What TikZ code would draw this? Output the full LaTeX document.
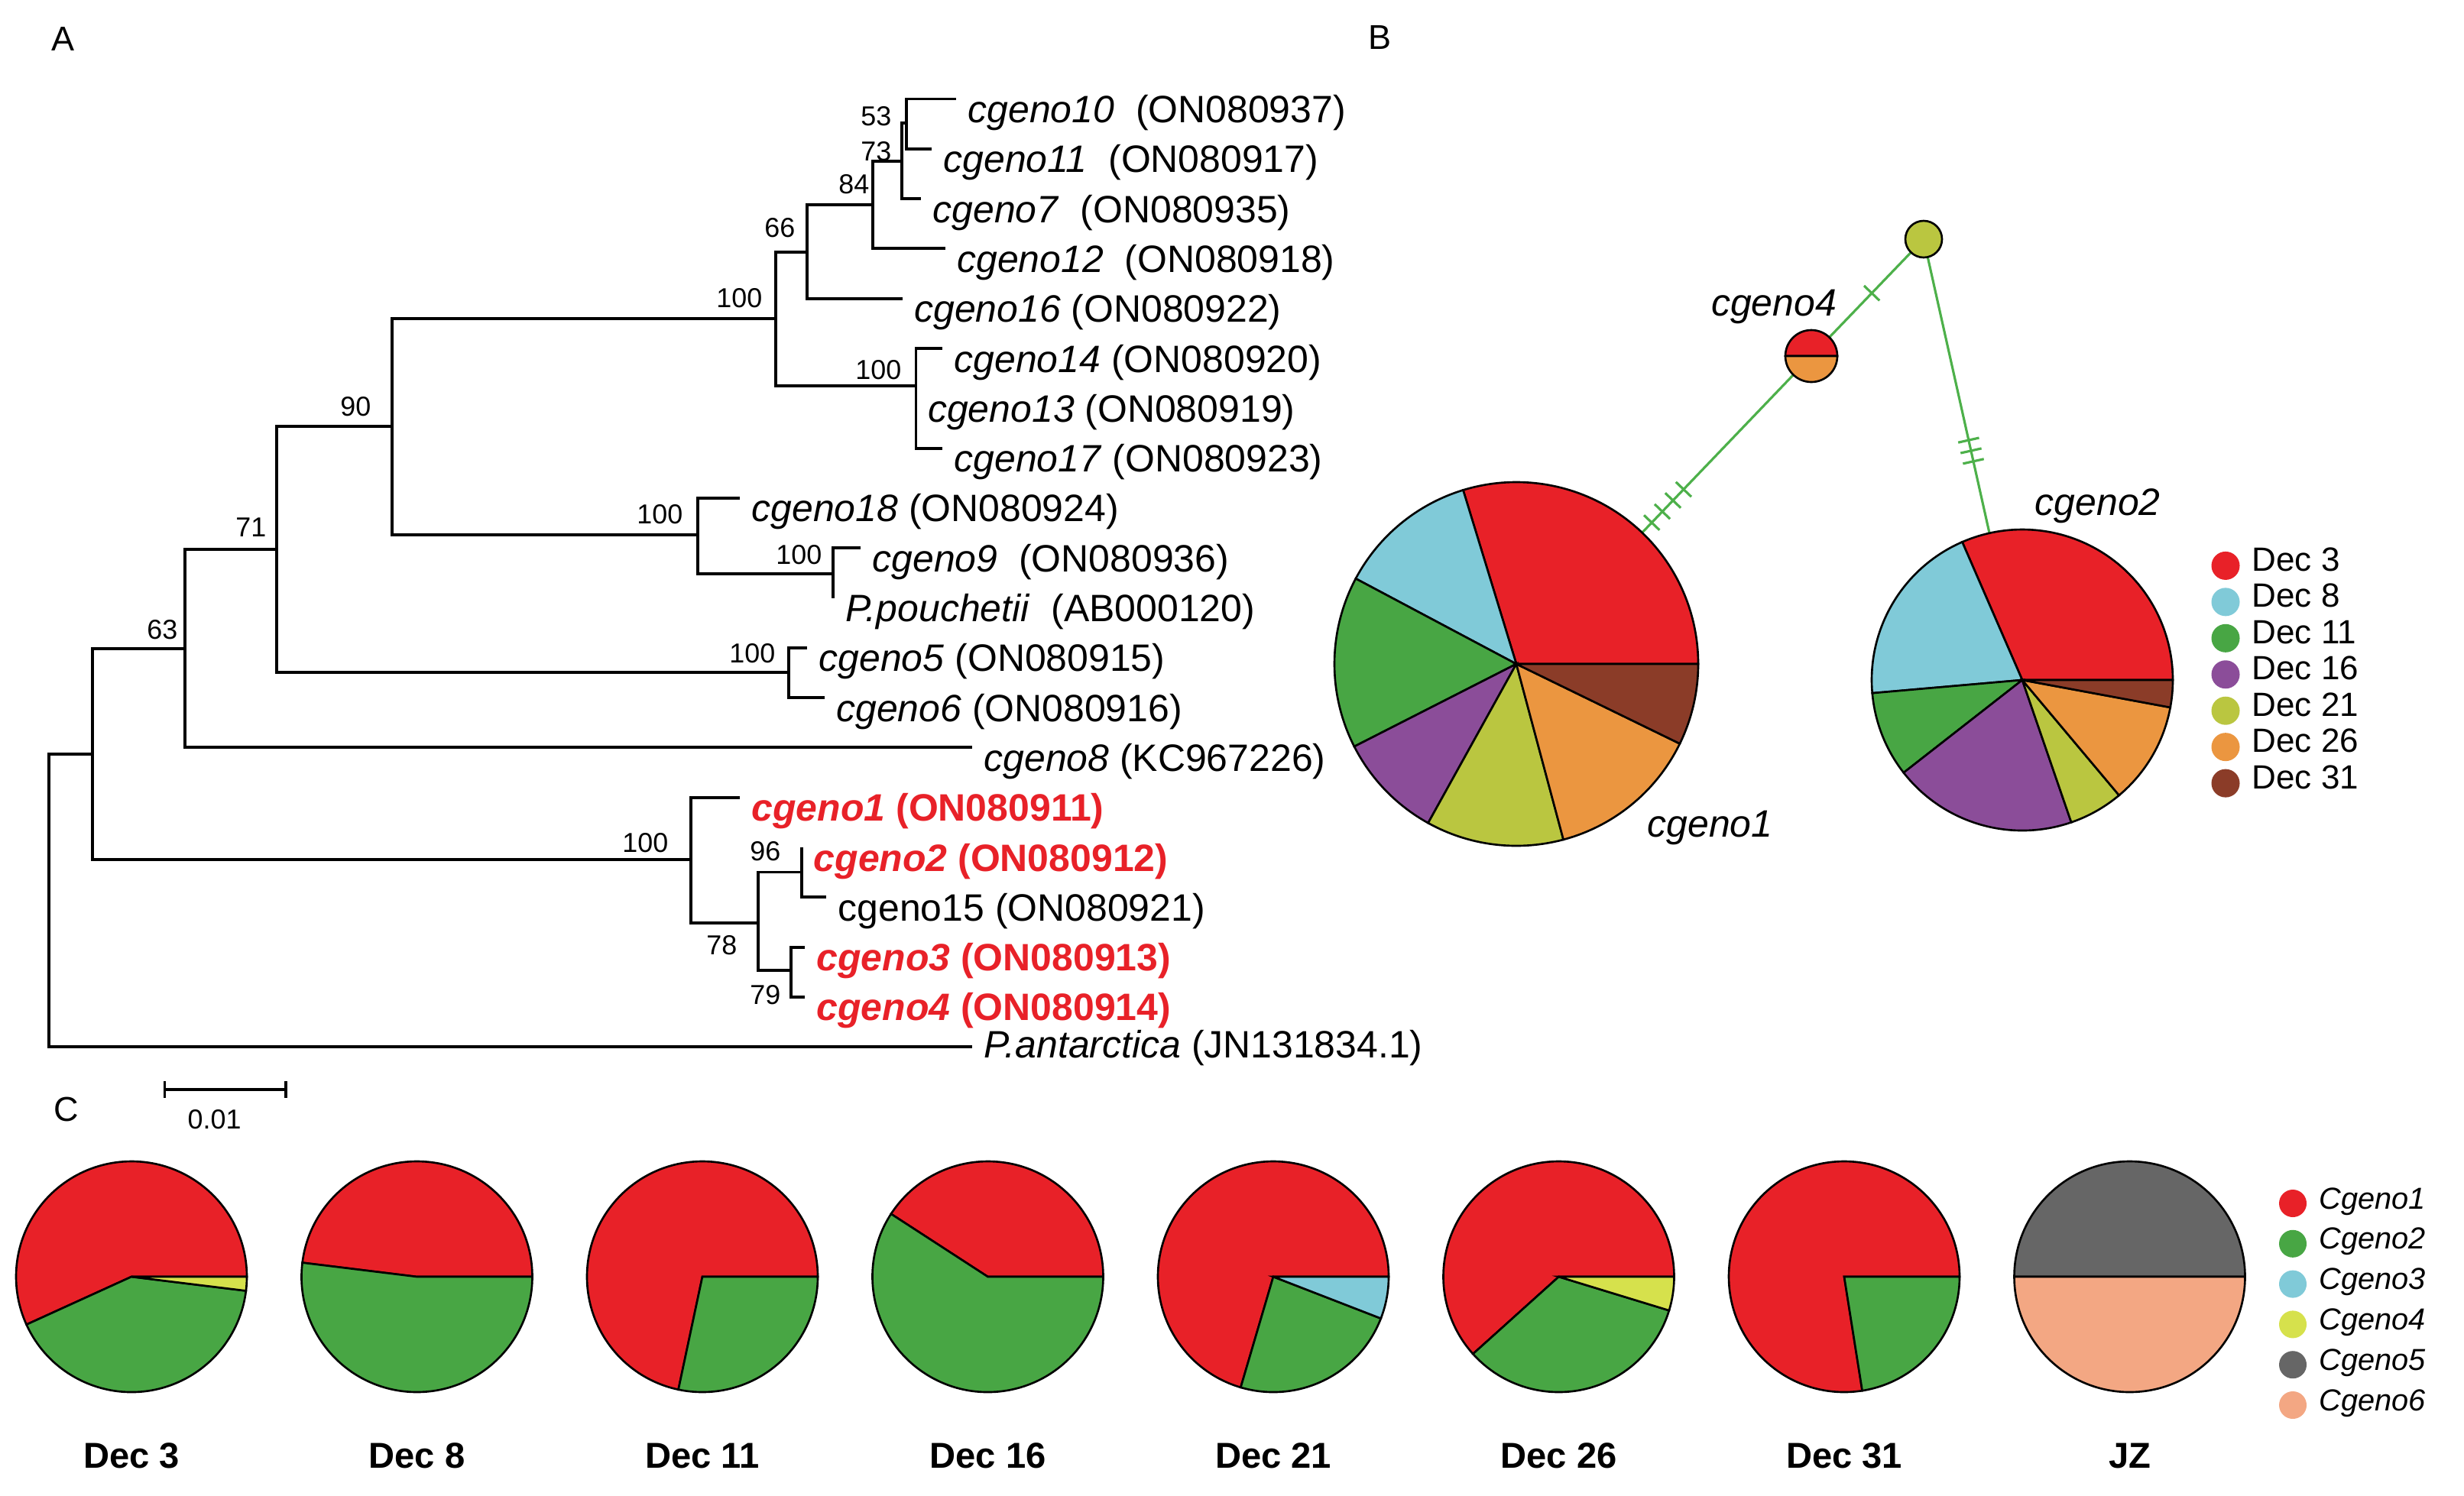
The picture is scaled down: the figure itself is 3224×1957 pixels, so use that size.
\documentclass[tikz,border=0pt]{standalone}
\usepackage{fontspec}
\setmainfont{Liberation Sans}
\usetikzlibrary{calc,arrows.meta}

\definecolor{pieRed}{RGB}{232,33,40}
\definecolor{pieCyan}{RGB}{128,202,216}
\definecolor{pieGreen}{RGB}{72,166,68}
\definecolor{piePurple}{RGB}{139,77,153}
\definecolor{pieOlive}{RGB}{186,198,64}
\definecolor{pieOrange}{RGB}{235,150,64}
\definecolor{pieBrown}{RGB}{139,60,40}
\definecolor{pieYellow}{RGB}{214,225,76}
\definecolor{pieGrey}{RGB}{102,102,102}
\definecolor{pieSalmon}{RGB}{243,167,131}
\definecolor{netGreen}{RGB}{77,176,74}

\begin{document}
\begin{tikzpicture}[
    x=0.01cm, y=0.01cm,
    branch/.style={line width=1.1pt},
    leaf/.style={anchor=base west, xshift=0.15cm, yshift=-0.31cm, inner sep=0pt, font=\fontsize{14.2}{16}\selectfont},
    hit/.style={leaf, text=pieRed, font=\fontsize{14.2}{16}\selectfont\bfseries},
    boot/.style={anchor=base east, inner sep=0pt, font=\fontsize{10.2}{12}\selectfont},
    panel/.style={anchor=base west, inner sep=0pt, font=\fontsize{12.8}{15}\selectfont},
    slice/.style={draw=black, line width=0.75pt},
    link/.style={draw=netGreen, line width=0.9pt},
    hap/.style={circle, inner sep=0pt, outer sep=0pt},
    datelab/.style={anchor=base, inner sep=0pt, font=\fontsize{13.4}{16}\selectfont\bfseries},
    key/.style={circle, inner sep=0pt, minimum size=0.37cm},
    keytext/.style={anchor=base west, inner sep=0pt, font=\fontsize{12.5}{15}\selectfont}
]
    \useasboundingbox (0,0) rectangle (3224,-1957);

    % Panel letters
    \node[panel] (pA) at (67,-66) {A};
    \node[panel] (pB) at (1790,-64) {B};
    \node[panel] (pC) at (70,-1467) {C};

    % Internal nodes of the tree
    \coordinate (root) at (63.8,-1178);
    \coordinate (nA) at (121.2,-987);
    \coordinate (nB) at (242.3,-848.7);
    \coordinate (nD) at (361.6,-719.3);
    \coordinate (nE) at (513.4,-558);
    \coordinate (nG) at (1014.8,-417.4);
    \coordinate (n66) at (1055.6,-330);
    \coordinate (n84) at (1142,-268);
    \coordinate (n73) at (1179.6,-211);
    \coordinate (n53) at (1185.7,-161);
    \coordinate (nT) at (1198.5,-505);
    \coordinate (nH) at (913.3,-700);
    \coordinate (nI) at (1090.3,-751);
    \coordinate (nF) at (1032,-880.4);
    \coordinate (nC) at (904.2,-1124.9);
    \coordinate (nJ) at (991.6,-1208.4);
    \coordinate (nK) at (1049,-1141.5);
    \coordinate (nL) at (1035,-1270.3);

    % Tips
    \coordinate (t10) at (1251,-129.5);
    \coordinate (t11) at (1219,-194.8);
    \coordinate (t7) at (1205,-260.1);
    \coordinate (t12) at (1236.7,-325.4);
    \coordinate (t16) at (1180.6,-390.7);
    \coordinate (t14) at (1233,-456);
    \coordinate (t13) at (1198.5,-521.3);
    \coordinate (t17) at (1233,-586.6);
    \coordinate (t18) at (967.9,-651.9);
    \coordinate (t9) at (1126,-717.2);
    \coordinate (tPp) at (1090.3,-782.5);
    \coordinate (t5) at (1056,-847.8);
    \coordinate (t6) at (1078.6,-913.1);
    \coordinate (t8) at (1271.8,-978.4);
    \coordinate (t1) at (968,-1043.7);
    \coordinate (t2) at (1049,-1109);
    \coordinate (t15) at (1080.9,-1174.3);
    \coordinate (t3) at (1052.8,-1239.6);
    \coordinate (t4) at (1052.8,-1304.9);
    \coordinate (tPa) at (1272.2,-1370.2);

    % Branches
    \draw[branch] (root) |- (nA);
    \draw[branch] (root) |- (tPa);
    \draw[branch] (nA) |- (nB);
    \draw[branch] (nA) |- (nC);
    \draw[branch] (nB) |- (nD);
    \draw[branch] (nB) |- (t8);
    \draw[branch] (nD) |- (nE);
    \draw[branch] (nD) |- (nF);
    \draw[branch] (nE) |- (nG);
    \draw[branch] (nE) |- (nH);
    \draw[branch] (nG) |- (n66);
    \draw[branch] (nG) |- (nT);
    \draw[branch] (n66) |- (n84);
    \draw[branch] (n66) |- (t16);
    \draw[branch] (n84) |- (n73);
    \draw[branch] (n84) |- (t12);
    \draw[branch] (n73) |- (n53);
    \draw[branch] (n73) |- (t7);
    \draw[branch] (n53) |- (t10);
    \draw[branch] (n53) |- (t11);
    \draw[branch] (nT) |- (t14);
    \draw[branch] (nT) |- (t17);
    \draw[branch] (nH) |- (t18);
    \draw[branch] (nH) |- (nI);
    \draw[branch] (nI) |- (t9);
    \draw[branch] (nI) |- (tPp);
    \draw[branch] (nF) |- (t5);
    \draw[branch] (nF) |- (t6);
    \draw[branch] (nC) |- (t1);
    \draw[branch] (nC) |- (nJ);
    \draw[branch] (nJ) |- (nK);
    \draw[branch] (nJ) |- (nL);
    \draw[branch] (nK) |- (t2);
    \draw[branch] (nK) |- (t15);
    \draw[branch] (nL) |- (t3);
    \draw[branch] (nL) |- (t4);

    % Leaf labels
    \node[leaf] (l10) at (t10) {\textit{cgeno10}\ \ (ON080937)};
    \node[leaf] (l11) at (t11) {\textit{cgeno11}\ \ (ON080917)};
    \node[leaf] (l7) at (t7) {\textit{cgeno7}\ \ (ON080935)};
    \node[leaf] (l12) at (t12) {\textit{cgeno12}\ \ (ON080918)};
    \node[leaf] (l16) at (t16) {\textit{cgeno16} (ON080922)};
    \node[leaf] (l14) at (t14) {\textit{cgeno14} (ON080920)};
    \node[leaf] (l13) at (t13) {\textit{cgeno13} (ON080919)};
    \node[leaf] (l17) at (t17) {\textit{cgeno17} (ON080923)};
    \node[leaf] (l18) at (t18) {\textit{cgeno18} (ON080924)};
    \node[leaf] (l9) at (t9) {\textit{cgeno9}\ \ (ON080936)};
    \node[leaf] (lPp) at (tPp) {\textit{P.pouchetii}\ \ (AB000120)};
    \node[leaf] (l5) at (t5) {\textit{cgeno5} (ON080915)};
    \node[leaf] (l6) at (t6) {\textit{cgeno6} (ON080916)};
    \node[leaf] (l8) at (t8) {\textit{cgeno8} (KC967226)};
    \node[hit] (l1) at (t1) {\textit{cgeno1} (ON080911)};
    \node[hit] (l2) at (t2) {\textit{cgeno2} (ON080912)};
    \node[leaf] (l15) at (t15) {cgeno15 (ON080921)};
    \node[hit] (l3) at (t3) {\textit{cgeno3} (ON080913)};
    \node[hit] (l4) at (t4) {\textit{cgeno4} (ON080914)};
    \node[leaf, yshift=0.17cm] (lPa) at (tPa) {\textit{P.antarctica} (JN131834.1)};

    % Bootstrap values
    \node[boot] (s53) at (1167,-164) {53};
    \node[boot] (s73) at (1167,-210) {73};
    \node[boot] (s84) at (1138,-253) {84};
    \node[boot] (s66) at (1041,-310) {66};
    \node[boot] (sG) at (998,-402) {100};
    \node[boot] (sT) at (1180,-496) {100};
    \node[boot] (s90) at (486,-544) {90};
    \node[boot] (sH) at (894,-685) {100};
    \node[boot] (s71) at (349,-702) {71};
    \node[boot] (sI) at (1076,-738) {100};
    \node[boot] (s63) at (233,-836) {63};
    \node[boot] (sF) at (1015,-867) {100};
    \node[boot] (sC) at (875,-1115) {100};
    \node[boot] (s96) at (1022,-1126) {96};
    \node[boot] (s78) at (965,-1249) {78};
    \node[boot] (s79) at (1022,-1314) {79};

    % Scale bar
    \coordinate (sb1) at (213.6,-1425.9);
    \coordinate (sb2) at (376.3,-1425.9);
    \draw[branch, {Bar[width=0.22cm]}-{Bar[width=0.22cm]}] (sb1) -- (sb2);
    \node[boot, anchor=base] (sbl) at (280.6,-1477) {0.01};

    % Haplotype network
    \node[hap, minimum size=4.76cm] (g1) at (1984,-869) {};
    \node[hap, minimum size=3.94cm] (g2) at (2646,-890) {};
    \node[hap, minimum size=0.68cm] (g4) at (2370,-466) {};
    \node[hap, minimum size=0.48cm] (gm) at (2517,-313) {};
    \draw[link] (g1) -- (g4);
    \draw[link] (g4) -- (gm);
    \draw[link] (gm) -- (g2);
    \foreach \t in {0.459,0.495,0.531,0.567}
        \draw[link] ($(g1.center)!\t!(g4.center)!0.14cm!90:(g4.center)$) -- ($(g1.center)!\t!(g4.center)!0.14cm!-90:(g4.center)$);
    \draw[link] ($(g4.center)!0.538!(gm.center)!0.14cm!90:(gm.center)$) -- ($(g4.center)!0.538!(gm.center)!0.14cm!-90:(gm.center)$);
    \foreach \t in {0.456,0.48,0.504}
        \draw[link] ($(gm.center)!\t!(g2.center)!0.14cm!90:(g2.center)$) -- ($(gm.center)!\t!(g2.center)!0.14cm!-90:(g2.center)$);

    \foreach \a/\b/\c in {0/107/pieRed, 107/152/pieCyan, 152/207/pieGreen, 207/241/piePurple, 241/285/pieOlive, 285/334/pieOrange, 334/360/pieBrown}
        \filldraw[slice, fill=\c] (g1.center) -- ++(\a:238) arc[start angle=\a, end angle=\b, radius=238] -- cycle;
    \foreach \a/\b/\c in {0/113.5/pieRed, 113.5/185/pieCyan, 185/218/pieGreen, 218/289/piePurple, 289/310/pieOlive, 310/349.5/pieOrange, 349.5/360/pieBrown}
        \filldraw[slice, fill=\c] (g2.center) -- ++(\a:197) arc[start angle=\a, end angle=\b, radius=197] -- cycle;
    \foreach \a/\b/\c in {0/180/pieRed, 180/360/pieOrange}
        \filldraw[slice, fill=\c] (g4.center) -- ++(\a:34) arc[start angle=\a, end angle=\b, radius=34] -- cycle;
    \filldraw[slice, fill=pieOlive] (gm.center) circle[radius=24];

    \node[anchor=base, inner sep=0pt, font=\fontsize{14.2}{16}\selectfont\itshape] (n4lab) at (2321,-413) {cgeno4};
    \node[anchor=base west, inner sep=0pt, font=\fontsize{14.2}{16}\selectfont\itshape] (n1lab) at (2155,-1095) {cgeno1};
    \node[anchor=base west, inner sep=0pt, font=\fontsize{14.2}{16}\selectfont\itshape] (n2lab) at (2662,-674) {cgeno2};

    % Legend of panel B
    \foreach \c/\l [count=\i from 0] in {pieRed/Dec 3, pieCyan/Dec 8, pieGreen/Dec 11, piePurple/Dec 16, pieOlive/Dec 21, pieOrange/Dec 26, pieBrown/Dec 31} {
        \node[key, fill=\c] (kb\i) at (2912,{-740.4-47.45*\i}) {};
        \node[keytext] (kbt\i) at (2946,{-747.4-47.45*\i}) {\l};
    }

    % Panel C pies
    \foreach \l [count=\i from 0] in {Dec 3, Dec 8, Dec 11, Dec 16, Dec 21, Dec 26, Dec 31, JZ} {
        \node[hap, minimum size=3.02cm] (p\i) at ({172+373.5*\i},-1671) {};
        \node[datelab] (d\i) at ({172+373.5*\i},-1921) {\l};
    }
    \foreach \a/\b/\c in {0/204.5/pieRed, 204.5/353/pieGreen, 353/360/pieYellow}
        \filldraw[slice, fill=\c] (p0.center) -- ++(\a:151) arc[start angle=\a, end angle=\b, radius=151] -- cycle;
    \foreach \a/\b/\c in {0/173/pieRed, 173/360/pieGreen}
        \filldraw[slice, fill=\c] (p1.center) -- ++(\a:151) arc[start angle=\a, end angle=\b, radius=151] -- cycle;
    \foreach \a/\b/\c in {0/258/pieRed, 258/360/pieGreen}
        \filldraw[slice, fill=\c] (p2.center) -- ++(\a:151) arc[start angle=\a, end angle=\b, radius=151] -- cycle;
    \foreach \a/\b/\c in {0/147/pieRed, 147/360/pieGreen}
        \filldraw[slice, fill=\c] (p3.center) -- ++(\a:151) arc[start angle=\a, end angle=\b, radius=151] -- cycle;
    \foreach \a/\b/\c in {0/253.6/pieRed, 253.6/338.8/pieGreen, 338.8/360/pieCyan}
        \filldraw[slice, fill=\c] (p4.center) -- ++(\a:151) arc[start angle=\a, end angle=\b, radius=151] -- cycle;
    \foreach \a/\b/\c in {0/222/pieRed, 222/343/pieGreen, 343/360/pieYellow}
        \filldraw[slice, fill=\c] (p5.center) -- ++(\a:151) arc[start angle=\a, end angle=\b, radius=151] -- cycle;
    \foreach \a/\b/\c in {0/279/pieRed, 279/360/pieGreen}
        \filldraw[slice, fill=\c] (p6.center) -- ++(\a:151) arc[start angle=\a, end angle=\b, radius=151] -- cycle;
    \foreach \a/\b/\c in {0/180/pieGrey, 180/360/pieSalmon}
        \filldraw[slice, fill=\c] (p7.center) -- ++(\a:151) arc[start angle=\a, end angle=\b, radius=151] -- cycle;

    % Legend of panel C
    \foreach \c/\l [count=\i from 0] in {pieRed/Cgeno1, pieGreen/Cgeno2, pieCyan/Cgeno3, pieYellow/Cgeno4, pieGrey/Cgeno5, pieSalmon/Cgeno6} {
        \node[key, minimum size=0.36cm, fill=\c] (kc\i) at (3000,{-1575-52.8*\i}) {};
        \node[keytext, font=\fontsize{11.3}{14}\selectfont\itshape] (kct\i) at (3034,{-1582-52.8*\i}) {\l};
    }
\end{tikzpicture}
\end{document}
